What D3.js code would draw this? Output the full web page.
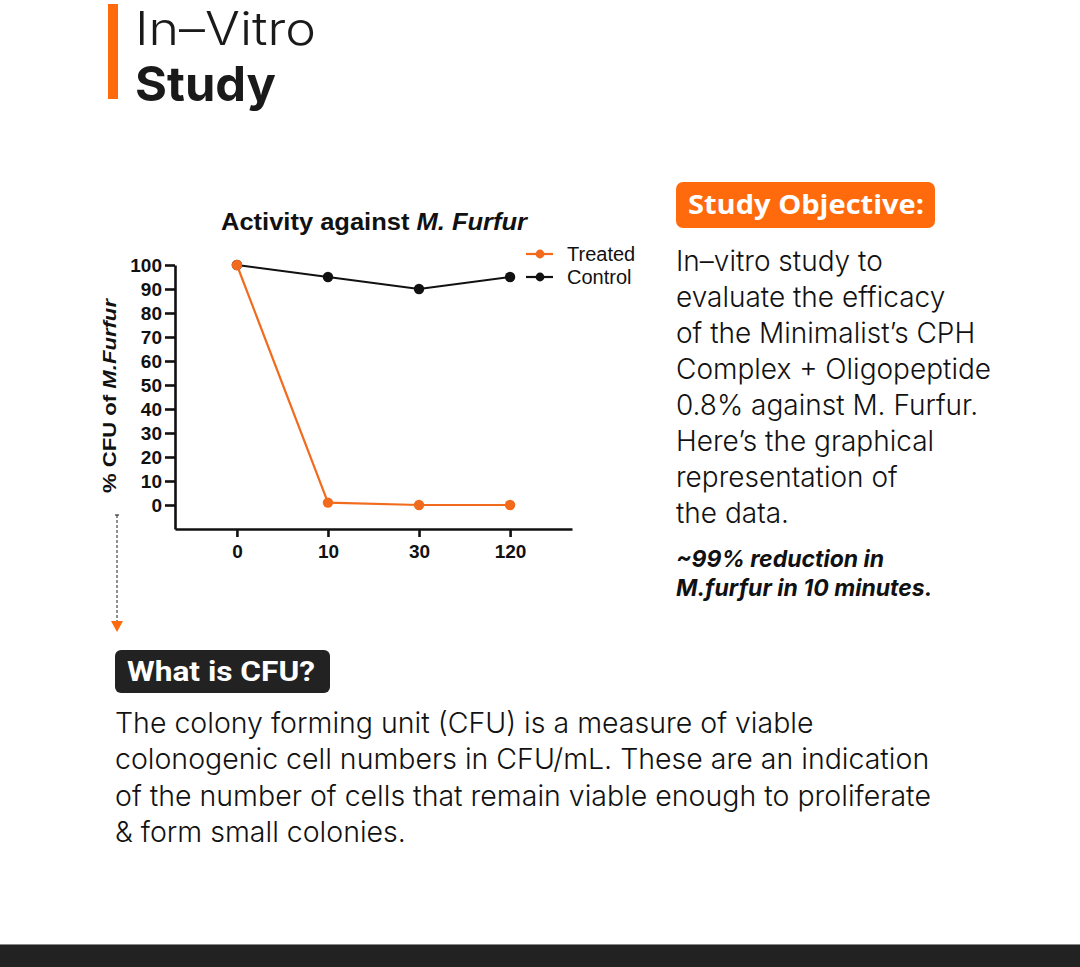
<!DOCTYPE html>
<html>
<head>
<meta charset="utf-8">
<script src="https://cdn.jsdelivr.net/npm/d3@7"></script>
<style>
  html, body { margin: 0; padding: 0; background: #fff; }
  svg { display: block; }
</style>
</head>
<body>
<svg id="page" width="1080" height="967"></svg>
<script>
// ---------- DATA ----------
const timePoints = ["0", "10", "30", "120"];
const treatedValues = [100, 1, 0, 0];
const controlValues = [100, 95, 90, 95];
const yTickValues = [0, 10, 20, 30, 40, 50, 60, 70, 80, 90, 100];
const seriesNames = ["Treated", "Control"];

const objectiveLines = [
  "In\u2013vitro study to",
  "evaluate the efficacy",
  "of the Minimalist\u2019s CPH",
  "Complex + Oligopeptide",
  "0.8% against M. Furfur.",
  "Here\u2019s the graphical",
  "representation of",
  "the data."
];
const highlightLines = ["~99% reduction in", "M.furfur in 10 minutes."];
const cfuLines = [
  "The colony forming unit (CFU) is a measure of viable",
  "colonogenic cell numbers in CFU/mL. These are an indication",
  "of the number of cells that remain viable enough to proliferate",
  "& form small colonies."
];

// ---------- STYLE ----------
const ORANGE = "#F26B1D";
const BRAND = "#FF6A0D";
const DARK = "#222222";
const BODY_FONT = "Inter, 'Open Sans', sans-serif";

const svg = d3.select("#page");

// ---------- HEADER ----------
svg.append("rect").attr("x", 108).attr("y", 4).attr("width", 10).attr("height", 95).attr("fill", BRAND);
svg.append("text").attr("x", 135).attr("y", 45)
  .attr("font-family", BODY_FONT).attr("font-weight", 300)
  .attr("font-size", 46).attr("fill", "#1a1a1a")
  .attr("textLength", 181).attr("lengthAdjust", "spacingAndGlyphs").text("In\u2013Vitro");
svg.append("text").attr("x", 135).attr("y", 101)
  .attr("font-family", BODY_FONT).attr("font-weight", 700)
  .attr("font-size", 48).attr("fill", "#1a1a1a")
  .attr("textLength", 141).attr("lengthAdjust", "spacingAndGlyphs").text("Study");

// ---------- CHART ----------
const x = d3.scalePoint().domain(timePoints).range([175, 572]).padding(0.68);
const y = d3.scaleLinear().domain([-10, 100]).range([529, 265]);

const chart = svg.append("g").attr("font-family", "'Liberation Sans', Arial, sans-serif");

// title
const title = chart.append("text").attr("x", 374).attr("y", 230)
  .attr("text-anchor", "middle").attr("font-size", 24).attr("font-weight", 700)
  .attr("fill", "#111").attr("textLength", 306).attr("lengthAdjust", "spacingAndGlyphs");
title.append("tspan").text("Activity against ");
title.append("tspan").attr("font-style", "italic").text("M. Furfur");

// y axis
const yAxis = chart.append("g").attr("transform", "translate(175,0)")
  .call(d3.axisLeft(y).tickValues(yTickValues).tickSize(10).tickSizeOuter(0).tickPadding(3));
yAxis.selectAll("path,line").attr("stroke", "#111").attr("stroke-width", 2.6);
yAxis.selectAll("text").attr("font-size", 19).attr("font-weight", 700).attr("fill", "#111")
  .attr("font-family", "'Liberation Sans', Arial, sans-serif");

// x axis
const xAxis = chart.append("g").attr("transform", "translate(0,529)")
  .call(d3.axisBottom(x).tickSize(8).tickSizeOuter(0).tickPadding(8));
xAxis.selectAll("path,line").attr("stroke", "#111").attr("stroke-width", 2.6);
xAxis.selectAll("text").attr("font-size", 19).attr("font-weight", 700).attr("fill", "#111")
  .attr("font-family", "'Liberation Sans', Arial, sans-serif");

// y label
const yl = chart.append("text")
  .attr("transform", "translate(116,396) rotate(-90)")
  .attr("text-anchor", "middle").attr("font-size", 19).attr("font-weight", 700).attr("fill", "#111")
  .attr("textLength", 194).attr("lengthAdjust", "spacingAndGlyphs");
yl.append("tspan").text("% CFU of ");
yl.append("tspan").attr("font-style", "italic").text("M.Furfur");

// series
const series = [
  { name: seriesNames[1], values: controlValues, color: "#111" },
  { name: seriesNames[0], values: treatedValues, color: ORANGE }
];
const line = d3.line().x((d, i) => x(timePoints[i])).y(d => y(d));
series.forEach(s => {
  chart.append("path").datum(s.values).attr("d", line)
    .attr("fill", "none").attr("stroke", s.color).attr("stroke-width", 2.2);
  chart.selectAll(null).data(s.values).enter().append("circle")
    .attr("cx", (d, i) => x(timePoints[i])).attr("cy", d => y(d)).attr("r", 5.2)
    .attr("fill", s.color);
});

// legend
const legendItems = [
  { name: seriesNames[0], color: ORANGE },
  { name: seriesNames[1], color: "#111" }
];
const lg = chart.append("g");
legendItems.forEach((it, i) => {
  const ly = 254 + i * 23;
  lg.append("line").attr("x1", 526).attr("x2", 553).attr("y1", ly).attr("y2", ly)
    .attr("stroke", it.color).attr("stroke-width", 2.2);
  lg.append("circle").attr("cx", 540).attr("cy", ly).attr("r", 4.4).attr("fill", it.color);
  lg.append("text").attr("x", 567).attr("y", ly + 7).attr("font-size", 20)
    .attr("fill", "#111").text(it.name);
});

// dashed arrow
svg.append("line").attr("x1", 117).attr("x2", 117).attr("y1", 515).attr("y2", 622)
  .attr("stroke", "#444").attr("stroke-width", 1.2).attr("stroke-dasharray", "3,2");
svg.append("line").attr("x1", 115).attr("x2", 119).attr("y1", 515).attr("y2", 515)
  .attr("stroke", "#333").attr("stroke-width", 1.2);
svg.append("path").attr("d", "M111,621 L123,621 L117,632 Z").attr("fill", BRAND);

// ---------- STUDY OBJECTIVE ----------
svg.append("rect").attr("x", 676).attr("y", 182).attr("width", 259).attr("height", 46)
  .attr("rx", 7).attr("fill", BRAND);
svg.append("text").attr("x", 688).attr("y", 214)
  .attr("font-family", "'Open Sans', Lato, sans-serif").attr("font-weight", 700)
  .attr("font-size", 27).attr("fill", "#fff")
  .attr("textLength", 236).attr("lengthAdjust", "spacingAndGlyphs").text("Study Objective:");

svg.append("g").selectAll("text").data(objectiveLines).enter().append("text")
  .attr("x", 676).attr("y", (d, i) => 271 + i * 36)
  .attr("font-family", BODY_FONT).attr("font-weight", 300)
  .attr("font-size", 28).attr("fill", "#111").text(d => d);

svg.append("g").selectAll("text").data(highlightLines).enter().append("text")
  .attr("x", 676).attr("y", (d, i) => 567 + i * 29)
  .attr("font-family", BODY_FONT).attr("font-weight", 700)
  .attr("font-style", "italic").attr("font-size", 23).attr("fill", "#111").text(d => d);

// ---------- WHAT IS CFU ----------
svg.append("rect").attr("x", 115).attr("y", 650).attr("width", 215).attr("height", 43)
  .attr("rx", 6).attr("fill", DARK);
svg.append("text").attr("x", 127).attr("y", 681)
  .attr("font-family", "Roboto, sans-serif").attr("font-weight", 700)
  .attr("font-size", 27).attr("fill", "#fff")
  .attr("textLength", 188).attr("lengthAdjust", "spacingAndGlyphs").text("What is CFU?");

svg.append("g").selectAll("text").data(cfuLines).enter().append("text")
  .attr("x", 115).attr("y", (d, i) => 733 + i * 36.3)
  .attr("font-family", BODY_FONT).attr("font-weight", 300)
  .attr("font-size", 28.5).attr("fill", "#111").text(d => d);

// ---------- BOTTOM BAR ----------
svg.append("rect").attr("x", 0).attr("y", 944).attr("width", 1080).attr("height", 23).attr("fill", DARK);
svg.append("line").attr("x1", 0).attr("x2", 1080).attr("y1", 944.5).attr("y2", 944.5)
  .attr("stroke", "#888").attr("stroke-width", 1);
</script>
</body>
</html>
